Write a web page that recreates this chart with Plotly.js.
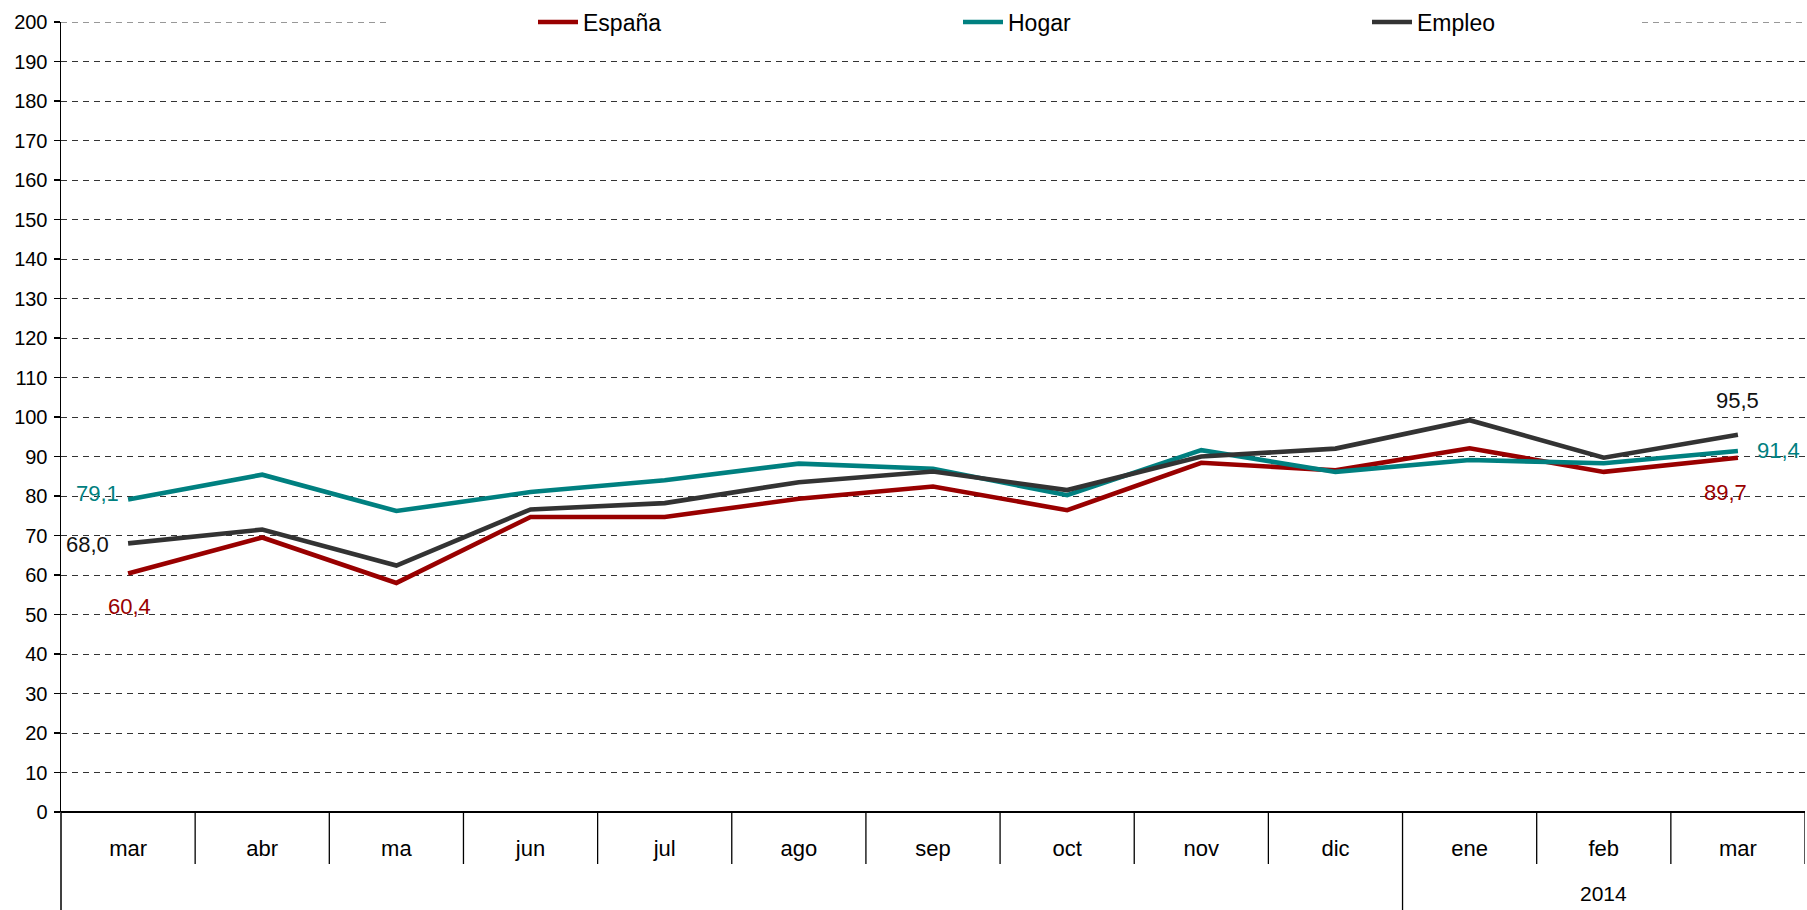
<!DOCTYPE html>
<html>
<head>
<meta charset="utf-8">
<script src="https://cdn.plot.ly/plotly-3.0.1.min.js"></script>
<style>html,body{margin:0;padding:0;background:#fff;}#chart{width:1807px;height:910px;}</style>
</head>
<body>
<div id="chart"></div>
<script>
// ---- data ----
const categories = ["mar","abr","ma","jun","jul","ago","sep","oct","nov","dic","ene","feb","mar "];
const yearLabel = "2014";
const yearStartIndex = 10;   // "ene" starts the 2014 group
const seriesNames = ["España", "Hogar", "Empleo"];
const espana = [60.4, 69.5, 58.0, 74.7, 74.7, 79.3, 82.4, 76.4, 88.4, 86.5, 92.1, 86.1, 89.7];
const hogar  = [79.1, 85.4, 76.2, 81.0, 84.0, 88.2, 86.9, 80.2, 91.6, 86.1, 89.1, 88.3, 91.4];
const empleo = [68.0, 71.5, 62.4, 76.6, 78.2, 83.5, 86.2, 81.5, 90.0, 92.0, 99.2, 89.7, 95.5];
const yTicks = [0,10,20,30,40,50,60,70,80,90,100,110,120,130,140,150,160,170,180,190,200];

// ---- styles ----
const cRed = "#990000", cTeal = "#008080", cDark = "#333333";
const narrow = "Liberation Sans Narrow, Liberation Sans, Arial, sans-serif";
const regular = "Liberation Sans, Arial, sans-serif";
const xIdx = categories.map((c, i) => i);

function mk(name, ys, color, legendId) {
  return {type: "scatter", mode: "lines", name: name, x: xIdx, y: ys, legend: legendId,
          line: {color: color, width: 4.6}, cliponaxis: false, hoverinfo: "skip"};
}
const traces = [
  mk(seriesNames[0], espana, cRed, "legend"),
  mk(seriesNames[1], hogar, cTeal, "legend2"),
  mk(seriesNames[2], empleo, cDark, "legend3")
];

const fmt = v => v.toFixed(1).replace(".", ",");
const last = categories.length - 1;
function lab(i, v, color, xs, ys) {
  return {x: i, y: v, xref: "x", yref: "y", text: fmt(v), showarrow: false,
          xshift: xs, yshift: ys, font: {family: regular, size: 22, color: color}};
}
const plotH = 790; // paper height in px (910 - 22 - 98)
const plotW = 1744;
const annotations = [
  lab(0, hogar[0], cTeal, -31, 6),
  lab(0, empleo[0], "#111", -41, -1),
  lab(0, espana[0], cRed, 1, -33),
  lab(last, empleo[last], "#111", 0, 34),
  lab(last, hogar[last], cTeal, 41, 0),
  lab(last, espana[last], cRed, -12, -35),
  {x: yearStartIndex + 1, y: -95 / plotH, xref: "x", yref: "paper", text: yearLabel,
   showarrow: false, font: {family: narrow, size: 21, color: "#000"}}
];

// category separators
const shapes = [];
for (let i = 1; i <= categories.length; i++) {
  const deep = (i === yearStartIndex);
  shapes.push({type: "line", xref: "x", yref: "paper", x0: i - 0.5, x1: i - 0.5,
               y0: 0, y1: deep ? -98 / plotH : -52 / plotH, line: {color: "#000", width: 1.3}});
}
// left axis line extending into the label area
shapes.push({type: "line", xref: "paper", yref: "paper", x0: 0, x1: 0, y0: 0, y1: -98 / plotH,
             line: {color: "#000", width: 1.5}});
// top gridline (200), interrupted behind the legend
const gapL = (386 - 61) / plotW, gapR = (1642 - 61) / plotW;
const topY = yTicks[yTicks.length - 1];
shapes.push({type: "line", xref: "paper", yref: "y", x0: 0, x1: gapL, y0: topY, y1: topY,
             line: {color: "#333", width: 1, dash: "6px,5px"}});
shapes.push({type: "line", xref: "paper", yref: "y", x0: gapR, x1: 1, y0: topY, y1: topY,
             line: {color: "#333", width: 1, dash: "6px,5px"}});

function leg(px) {
  return {orientation: "h", x: (px - 61) / plotW, xanchor: "left", y: 1, yanchor: "middle",
          bgcolor: "rgba(0,0,0,0)", font: {family: narrow, size: 23, color: "#000"}, itemwidth: 40};
}

const layout = {
  width: 1807, height: 910,
  margin: {l: 61, r: 2, t: 22, b: 98, autoexpand: false},
  paper_bgcolor: "#fff", plot_bgcolor: "#fff",
  showlegend: true,
  legend: leg(533), legend2: leg(958), legend3: leg(1367),
  xaxis: {type: "linear", range: [-0.5, categories.length - 0.5], tickmode: "array",
          tickvals: xIdx, ticktext: categories.map(c => c.trim()), ticks: "",
          showgrid: false, zeroline: false, showline: false,
          ticklabelstandoff: 21, tickfont: {family: narrow, size: 22, color: "#000"}, fixedrange: true},
  yaxis: {range: [0, 200], tickmode: "array", tickvals: yTicks, ticktext: yTicks.map(String),
          ticks: "outside", ticklen: 6, tickcolor: "#000", tickwidth: 1.3,
          showline: true, linecolor: "#000", linewidth: 1.5,
          showgrid: true, gridcolor: "#333", griddash: "6px,5px", gridwidth: 1,
          zeroline: true, zerolinecolor: "#000", zerolinewidth: 2.5,
          tickfont: {family: narrow, size: 20, color: "#000"}, ticklabelstandoff: 2, fixedrange: true},
  annotations: annotations,
  shapes: shapes
};

Plotly.newPlot("chart", traces, layout, {displayModeBar: false, staticPlot: true});
</script>
</body>
</html>
